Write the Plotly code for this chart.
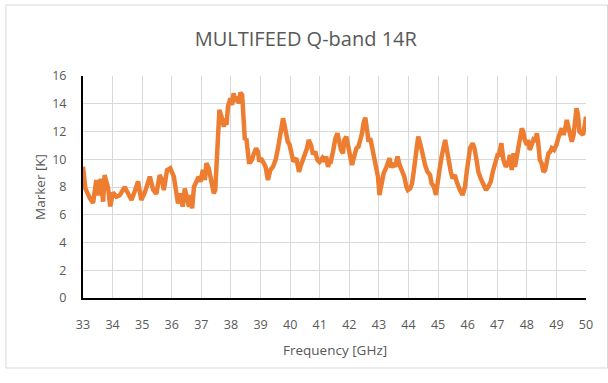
import plotly.graph_objects as go

# Measured marker temperature across the Q-band sweep
freq_ghz = [
    33.00, 33.08, 33.23, 33.34, 33.45, 33.53, 33.60, 33.68, 33.73, 33.85,
    33.92, 34.01, 34.13, 34.24, 34.41, 34.52, 34.64, 34.75, 34.86, 34.97,
    35.09, 35.26, 35.37, 35.48, 35.59, 35.67, 35.73, 35.84, 35.95, 36.07,
    36.12, 36.21, 36.29, 36.37, 36.44, 36.52, 36.58, 36.63, 36.69, 36.75,
    36.86, 36.91, 36.97, 37.05, 37.12, 37.17, 37.25, 37.34, 37.42, 37.47,
    37.51, 37.57, 37.61, 37.68, 37.76, 37.81, 37.85, 37.90, 37.98, 38.04,
    38.09, 38.15, 38.21, 38.27, 38.32, 38.38, 38.41, 38.47, 38.52, 38.56,
    38.61, 38.66, 38.72, 38.76, 38.85, 38.91, 38.96, 39.02, 39.10, 39.17,
    39.25, 39.33, 39.42, 39.51, 39.59, 39.64, 39.70, 39.76, 39.81, 39.87,
    39.92, 39.98, 40.04, 40.11, 40.21, 40.30, 40.37, 40.49, 40.57, 40.63,
    40.71, 40.77, 40.85, 40.92, 40.99, 41.09, 41.16, 41.22, 41.28, 41.33,
    41.36, 41.45, 41.53, 41.60, 41.67, 41.72, 41.79, 41.83, 41.90, 41.94,
    42.01, 42.09, 42.17, 42.24, 42.31, 42.37, 42.43, 42.48, 42.54, 42.60,
    42.65, 42.71, 42.77, 42.82, 42.90, 42.97, 43.02, 43.10, 43.16, 43.24,
    43.29, 43.36, 43.42, 43.48, 43.55, 43.63, 43.70, 43.78, 43.86, 43.93,
    43.98, 44.06, 44.12, 44.17, 44.25, 44.33, 44.41, 44.48, 44.56, 44.64,
    44.73, 44.78, 44.86, 44.93, 44.99, 45.04, 45.12, 45.18, 45.24, 45.29,
    45.35, 45.43, 45.49, 45.57, 45.63, 45.69, 45.74, 45.83, 45.91, 45.97,
    46.02, 46.08, 46.17, 46.23, 46.31, 46.36, 46.44, 46.53, 46.62, 46.70,
    46.78, 46.85, 46.93, 47.01, 47.06, 47.10, 47.14, 47.21, 47.29, 47.37,
    47.43, 47.49, 47.55, 47.60, 47.66, 47.72, 47.77, 47.83, 47.88, 47.93,
    48.00, 48.04, 48.10, 48.17, 48.22, 48.28, 48.34, 48.38, 48.44, 48.50,
    48.56, 48.62, 48.67, 48.73, 48.79, 48.84, 48.92, 49.00, 49.06, 49.13,
    49.18, 49.24, 49.29, 49.35, 49.41, 49.47, 49.52, 49.58, 49.64, 49.68,
    49.73, 49.78, 49.84, 49.90, 49.96, 50.00,
]

marker_k = [
    9.46, 7.90, 7.20, 6.85, 8.50, 7.40, 8.60, 6.94, 8.86, 7.90,
    6.60, 7.60, 7.30, 7.40, 8.00, 7.50, 7.06, 7.70, 8.40, 7.06,
    7.60, 8.75, 7.80, 7.50, 8.86, 8.50, 7.78, 9.22, 9.35, 8.74,
    8.02, 6.82, 7.54, 6.58, 7.90, 6.94, 6.58, 7.42, 6.46, 8.02,
    8.50, 8.74, 8.38, 9.22, 8.50, 9.71, 9.35, 8.50, 7.54, 7.78,
    9.71, 13.43, 13.55, 13.07, 12.35, 12.95, 12.47, 13.79, 14.39, 13.91,
    14.75, 14.15, 14.51, 14.03, 14.80, 14.63, 12.83, 11.39, 11.51, 10.90,
    9.80, 9.80, 10.00, 10.31, 10.79, 10.55, 9.83, 10.07, 9.71, 9.46,
    8.50, 9.22, 9.46, 9.95, 10.79, 11.51, 12.59, 12.95, 12.47, 11.75,
    11.27, 11.05, 10.60, 9.83, 10.07, 9.10, 9.59, 10.19, 10.79, 11.39,
    11.00, 10.35, 10.55, 9.95, 9.80, 10.10, 9.83, 10.19, 9.46, 9.80,
    9.70, 10.55, 11.51, 11.87, 11.27, 10.67, 10.43, 11.39, 11.63, 11.03,
    10.43, 9.59, 10.19, 10.79, 10.91, 11.27, 11.87, 12.59, 13.00, 12.11,
    11.27, 11.51, 10.79, 10.55, 9.35, 8.74, 7.42, 8.62, 8.98, 9.35,
    9.71, 10.07, 9.40, 9.71, 9.46, 10.19, 9.59, 9.10, 8.74, 8.02,
    7.78, 7.90, 8.26, 9.00, 10.55, 11.63, 11.03, 10.19, 9.59, 9.10,
    8.86, 8.26, 8.02, 7.42, 8.14, 9.10, 10.19, 11.03, 11.39, 10.79,
    9.83, 9.10, 8.62, 8.86, 8.38, 8.02, 7.78, 7.42, 8.02, 9.10,
    10.07, 10.79, 11.15, 10.79, 9.83, 9.10, 8.62, 8.14, 7.78, 8.02,
    8.38, 9.10, 9.83, 10.31, 10.31, 10.67, 11.15, 9.95, 9.46, 9.71,
    10.31, 9.22, 10.43, 9.46, 10.19, 11.03, 11.87, 12.23, 11.99, 11.39,
    11.03, 11.39, 10.67, 11.03, 11.39, 11.27, 11.87, 11.27, 9.95, 9.71,
    9.10, 9.22, 9.95, 10.43, 10.55, 10.79, 10.67, 11.03, 11.51, 11.87,
    12.23, 11.75, 12.11, 12.83, 12.35, 11.75, 11.27, 11.75, 12.71, 13.67,
    13.19, 11.99, 11.87, 11.75, 12.47, 13.07,
]

x_ticks = list(range(33, 51))
y_ticks = list(range(0, 17, 2))

TEXT = "#595959"
GRID = "#D9D9D9"
FONT = "Open Sans, Liberation Sans, sans-serif"

fig = go.Figure(
    go.Scatter(
        x=freq_ghz,
        y=marker_k,
        mode="lines",
        line=dict(color="#ED7D31", width=4.5),
        hoverinfo="x+y",
        showlegend=False,
    )
)

fig.update_layout(
    width=608,
    height=383,
    margin=dict(l=83, r=22, t=76, b=85),
    paper_bgcolor="white",
    plot_bgcolor="white",
    font=dict(family=FONT, color=TEXT, size=12),
    title=dict(
        text="MULTIFEED Q-band 14R",
        x=0.503,
        xanchor="center",
        y=1 - 39 / 383,
        yanchor="middle",
        font=dict(family=FONT, size=20, color=TEXT),
    ),
)

fig.update_xaxes(
    range=[33, 50],
    tickvals=x_ticks,
    ticktext=[str(v) for v in x_ticks],
    showgrid=True,
    gridcolor=GRID,
    gridwidth=1,
    zeroline=False,
    showline=True,
    linecolor="black",
    linewidth=2,
    ticks="",
    ticklabelstandoff=14,
    tickfont=dict(size=12.5, color=TEXT),
)

fig.update_yaxes(
    range=[0, 16],
    tickvals=y_ticks,
    showgrid=True,
    gridcolor=GRID,
    gridwidth=1,
    zeroline=False,
    showline=True,
    linecolor="black",
    linewidth=2,
    ticks="",
    ticklabelstandoff=12,
    tickfont=dict(size=12.5, color=TEXT),
)

# Axis titles
fig.add_annotation(
    text="Marker [K]", xref="paper", yref="paper",
    x=(40 - 83) / 502.5, y=0.5, textangle=-90,
    xanchor="center", yanchor="middle",
    showarrow=False, font=dict(size=13.5, color=TEXT, family=FONT),
)
fig.add_annotation(
    text="Frequency [GHz]", xref="paper", yref="paper",
    x=(335 - 83) / 502.5, y=(298 - 350) / 222,
    xanchor="center", yanchor="middle",
    showarrow=False, font=dict(size=13.5, color=TEXT, family=FONT),
)

# Chart area border
fig.add_shape(
    type="rect", xref="paper", yref="paper",
    x0=(6 - 83) / 502.5, x1=(607 - 83) / 502.5,
    y0=(298 - 368) / 222, y1=(298 - 5) / 222,
    line=dict(color=GRID, width=1), fillcolor="rgba(0,0,0,0)",
    layer="below",
)

fig.write_html("out.html")
